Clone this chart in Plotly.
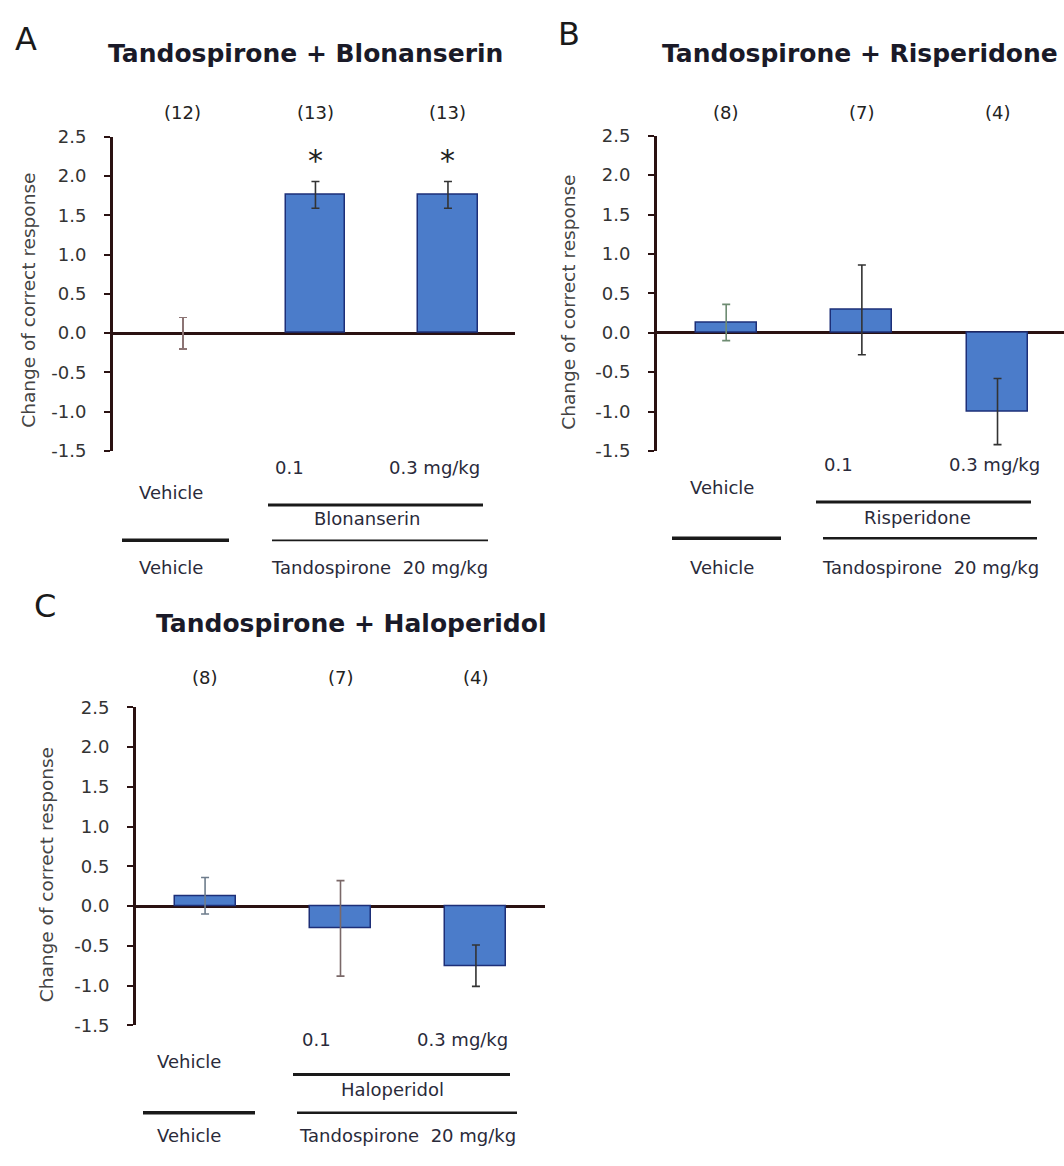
import plotly.graph_objects as go

W, H = 1064, 1166

# ---------------- data ----------------
categories = ["Vehicle", "0.1", "0.3 mg/kg"]
cat_pos = [0, 1, 2]

blon_mean = [0.0, 1.76, 1.76]
blon_err = [0.20, 0.17, 0.17]
blon_n = ["(12)", "(13)", "(13)"]
blon_sig = [False, True, True]

risp_mean = [0.13, 0.29, -1.00]
risp_err = [0.23, 0.57, 0.42]
risp_n = ["(8)", "(7)", "(4)"]

halo_mean = [0.13, -0.28, -0.75]
halo_err = [0.23, 0.60, 0.26]
halo_n = ["(8)", "(7)", "(4)"]

tick_vals = [-1.5, -1.0, -0.5, 0.0, 0.5, 1.0, 1.5, 2.0, 2.5]
tick_text = ["-1.5", "-1.0", "-0.5", "0.0", "0.5", "1.0", "1.5", "2.0", "2.5"]

# ---------------- style ----------------
FONT = "DejaVu Sans"
BAR_FILL = "#4b7cca"
BAR_LINE = "#1d2f78"
AXIS_C = "#2a1212"
TXT = "#222222"


def px(x):
    return x / W


def py(y):
    return 1 - y / H


fig = go.Figure()

panels = [
    dict(name="A", xa="x", ya="y", mean=blon_mean, err=blon_err, n=blon_n,
         errc=["#8c7474", "#333333", "#333333"],
         xdom=[px(113), px(515)], ydom=[py(448), py(128)], xr=[-0.528, 2.506],
         title="Tandospirone + Blonanserin", tpos=(305, 43), letter=(26, 29),
         ytitle=(29, 295), npos=103),
    dict(name="B", xa="x2", ya="y2", mean=risp_mean, err=risp_err, n=risp_n,
         errc=["#6e8c72", "#333333", "#333333"],
         xdom=[px(657), 1.0], ydom=[py(448), py(127)], xr=[-0.51, 2.49],
         title="Tandospirone + Risperidone", tpos=(860, 43), letter=(569, 23),
         ytitle=(569, 297), npos=103),
    dict(name="C", xa="x3", ya="y3", mean=halo_mean, err=halo_err, n=halo_n,
         errc=["#6e7c8c", "#7a6868", "#333333"],
         xdom=[px(136), px(545)], ydom=[py(1033), py(709)], xr=[-0.51, 2.51],
         title="Tandospirone + Haloperidol", tpos=(351, 624), letter=(45, 606),
         ytitle=(46, 880), npos=679),
]

annotations = []
shapes = []

for i, p in enumerate(panels):
    for j in range(3):
        lw = 1.5 if p["mean"][j] != 0 else 0
        fig.add_trace(go.Bar(
            x=[cat_pos[j]], y=[p["mean"][j]], width=0.45,
            marker=dict(color=BAR_FILL, line=dict(color=BAR_LINE, width=lw)),
            error_y=dict(type="data", array=[p["err"][j]], color=p["errc"][j],
                         thickness=1.6, width=4),
            xaxis=p["xa"], yaxis=p["ya"], showlegend=False, hoverinfo="skip",
        ))
        annotations.append(dict(
            x=cat_pos[j], y=py(p["npos"]), xref=p["xa"], yref="paper",
            text=p["n"][j], showarrow=False, font=dict(family=FONT, size=18, color=TXT),
            xanchor="center", yanchor="middle"))
    annotations.append(dict(x=px(p["tpos"][0]), y=py(p["tpos"][1]), xref="paper", yref="paper",
                            text="<b>" + p["title"] + "</b>", showarrow=False,
                            font=dict(family=FONT, size=25, color="#1a1a28"),
                            xanchor="center", yanchor="middle"))
    annotations.append(dict(x=px(p["letter"][0]), y=py(p["letter"][1]), xref="paper", yref="paper",
                            text=p["name"], showarrow=False,
                            font=dict(family=FONT, size=32, color="#1a1a1a"),
                            xanchor="center", yanchor="middle"))
    annotations.append(dict(x=px(p["ytitle"][0]), y=py(p["ytitle"][1]), xref="paper", yref="paper",
                            text="Change of correct response", showarrow=False, textangle=-90,
                            font=dict(family=FONT, size=18.5, color="#444444"),
                            xanchor="center", yanchor="middle"))

    sfx = "" if i == 0 else str(i + 1)
    fig.update_layout(**{
        "xaxis" + sfx: dict(domain=p["xdom"], range=p["xr"], showline=False, showgrid=False,
                            zeroline=False, showticklabels=False, ticks="",
                            anchor="y" + sfx, fixedrange=True),
        "yaxis" + sfx: dict(domain=p["ydom"], range=[-1.5, 2.5], showline=True, linecolor=AXIS_C,
                            linewidth=3, showgrid=False, zeroline=True, zerolinecolor=AXIS_C,
                            zerolinewidth=2.5, ticks="outside", ticklen=6, tickwidth=2,
                            tickcolor=AXIS_C, tickvals=tick_vals, ticktext=tick_text,
                            ticklabelstandoff=14,
                            tickfont=dict(family=FONT, size=18, color="#333333"),
                            anchor="x" + sfx, fixedrange=True),
    })

# significance stars (panel A)
for j in range(3):
    if blon_sig[j]:
        annotations.append(dict(x=cat_pos[j], y=blon_mean[j] + blon_err[j] + 0.27,
                                xref="x", yref="y", text="*", showarrow=False,
                                font=dict(family=FONT, size=30, color="#222222"),
                                xanchor="center", yanchor="middle"))


def label(x, y, text):
    annotations.append(dict(x=px(x), y=py(y), xref="paper", yref="paper", text=text,
                            showarrow=False, font=dict(family=FONT, size=18, color="#2a2a3a"),
                            xanchor="center", yanchor="middle"))


def hline(x0, x1, y, w):
    shapes.append(dict(type="line", xref="paper", yref="paper", x0=px(x0), x1=px(x1),
                       y0=py(y), y1=py(y), line=dict(color="#1a1a1a", width=w)))


# panel A group labels
label(289, 465, "0.1"); label(434, 465, "0.3 mg/kg"); label(171, 490, "Vehicle")
hline(268, 483, 503, 3)
label(367, 517, "Blonanserin")
hline(122, 229, 539, 3.5); hline(272, 488, 539, 1.8)
label(171, 567, "Vehicle"); label(379, 567, "Tandospirone&nbsp; 20 mg/kg")

# panel B group labels
label(838, 462, "0.1"); label(994, 462, "0.3 mg/kg"); label(722, 485, "Vehicle")
hline(816, 1031, 500, 3)
label(917, 516, "Risperidone")
hline(672, 781, 537, 3.5); hline(823, 1037, 537, 2.5)
label(722, 567, "Vehicle"); label(930, 567, "Tandospirone&nbsp; 20 mg/kg")

# panel C group labels
label(316, 1047, "0.1"); label(462, 1047, "0.3 mg/kg"); label(189, 1070, "Vehicle")
hline(293, 510, 1083, 3)
label(392, 1098, "Haloperidol")
hline(143, 255, 1122, 3.5); hline(297, 517, 1122, 2.5)
label(189, 1145, "Vehicle"); label(407, 1145, "Tandospirone&nbsp; 20 mg/kg")

fig.update_layout(
    width=W, height=H, margin=dict(l=0, r=0, t=0, b=0),
    paper_bgcolor="white", plot_bgcolor="white",
    annotations=annotations, shapes=shapes, showlegend=False,
    bargap=0, font=dict(family=FONT),
)

fig.write_html("out.html", config={"displayModeBar": False},
               post_script="document.body.style.margin='0';document.body.style.overflow='hidden';")
